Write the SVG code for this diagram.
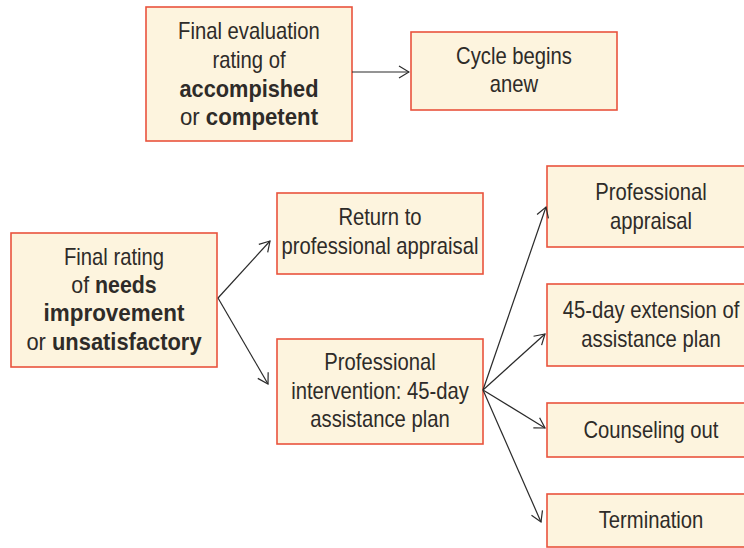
<svg xmlns="http://www.w3.org/2000/svg" width="744" height="548" viewBox="0 0 744 548">
<defs>
<marker id="ah" markerWidth="12" markerHeight="14" refX="11" refY="7" orient="auto" markerUnits="userSpaceOnUse">
<path d="M1,1 L11,7 L1,13" fill="none" stroke="#2a2a2a" stroke-width="1.2"/>
</marker>
<style>
.box{fill:#fdf4de;stroke:#e9533d;stroke-width:1.6}
.t{font-family:"Liberation Sans",Arial,sans-serif;font-size:23px;fill:#2e2b28;text-anchor:middle}
.b{font-weight:bold}
.c{stroke:#2a2a2a;stroke-width:1.2;fill:none;marker-end:url(#ah)}
</style>
</defs>
<rect width="744" height="548" fill="#ffffff"/>
<g id="n-final-eval">
<rect class="box" x="146" y="7" width="206" height="134"/>
<g transform="scale(0.88 1)">
<text class="t" x="282.95" y="39">Final evaluation</text>
<text class="t" x="282.95" y="68">rating of</text>
<text class="t b" x="282.95" y="97" textLength="158" lengthAdjust="spacingAndGlyphs">accompished</text>
<text class="t" x="282.95" y="125" textLength="157" lengthAdjust="spacingAndGlyphs">or <tspan class="b">competent</tspan></text>
</g>
</g>
<g id="n-cycle">
<rect class="box" x="411" y="32" width="206" height="78"/>
<g transform="scale(0.88 1)">
<text class="t" x="584.09" y="64">Cycle begins</text>
<text class="t" x="584.09" y="92">anew</text>
</g>
</g>
<g id="n-final-rating">
<rect class="box" x="11" y="233" width="206" height="134"/>
<g transform="scale(0.88 1)">
<text class="t" x="129.55" y="265">Final rating</text>
<text class="t" x="129.55" y="293" textLength="97" lengthAdjust="spacingAndGlyphs">of <tspan class="b">needs</tspan></text>
<text class="t b" x="129.55" y="321" textLength="160" lengthAdjust="spacingAndGlyphs">improvement</text>
<text class="t" x="129.55" y="350" textLength="199" lengthAdjust="spacingAndGlyphs">or <tspan class="b">unsatisfactory</tspan></text>
</g>
</g>
<g id="n-return">
<rect class="box" x="277" y="193" width="206" height="81"/>
<g transform="scale(0.88 1)">
<text class="t" x="431.82" y="225">Return to</text>
<text class="t" x="431.82" y="254">professional appraisal</text>
</g>
</g>
<g id="n-intervention">
<rect class="box" x="277" y="339" width="206" height="105"/>
<g transform="scale(0.88 1)">
<text class="t" x="431.82" y="370">Professional</text>
<text class="t" x="431.82" y="399">intervention: 45-day</text>
<text class="t" x="431.82" y="427">assistance plan</text>
</g>
</g>
<g id="n-appraisal">
<rect class="box" x="547" y="166" width="210" height="81"/>
<g transform="scale(0.88 1)">
<text class="t" x="739.77" y="200">Professional</text>
<text class="t" x="739.77" y="229">appraisal</text>
</g>
</g>
<g id="n-extension">
<rect class="box" x="547" y="284" width="210" height="82"/>
<g transform="scale(0.88 1)">
<text class="t" x="739.77" y="318">45-day extension of</text>
<text class="t" x="739.77" y="347">assistance plan</text>
</g>
</g>
<g id="n-counseling">
<rect class="box" x="547" y="403" width="210" height="54"/>
<g transform="scale(0.88 1)">
<text class="t" x="739.77" y="438">Counseling out</text>
</g>
</g>
<g id="n-termination">
<rect class="box" x="547" y="494" width="210" height="53"/>
<g transform="scale(0.88 1)">
<text class="t" x="739.77" y="528">Termination</text>
</g>
</g>
<g id="connectors">
<line class="c" x1="352" y1="72" x2="409" y2="72"/>
<line class="c" x1="218" y1="298" x2="270" y2="241"/>
<line class="c" x1="218" y1="298" x2="268" y2="384"/>
<line class="c" x1="483" y1="390" x2="546" y2="207"/>
<line class="c" x1="483" y1="390" x2="545" y2="334"/>
<line class="c" x1="483" y1="390" x2="545" y2="428"/>
<line class="c" x1="483" y1="390" x2="541" y2="522"/>
</g>
</svg>
